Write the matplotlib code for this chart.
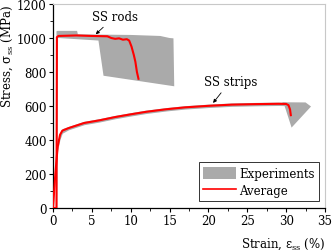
import matplotlib
matplotlib.use("Agg")
import matplotlib.pyplot as plt
from matplotlib.patches import Polygon, Patch
from matplotlib.lines import Line2D

plt.rcParams['font.family'] = ['DejaVu Serif']
plt.rcParams['mathtext.fontset'] = 'dejavuserif'
FS = 8.5

# SS rods: average curve
rods_strain = [0.0, 0.45, 0.5, 0.7, 3.0, 5.0, 7.0, 7.5, 8.0, 8.5, 9.0, 9.5, 9.8, 10.1, 10.4, 10.6, 10.8, 11.0]
rods_stress = [0, 0, 1005, 1012, 1015, 1012, 1010, 1000, 995, 998, 990, 993, 985, 950, 900, 860, 800, 760]

# SS rods: experimental envelope (polygon outline)
rods_env_strain = [0.40, 0.45, 0.6, 3.1, 3.2, 6.0, 10.0, 13.8, 15.0, 15.5, 15.6, 6.5, 5.85, 0.65, 0.55]
rods_env_stress = [0, 1040, 1042, 1042, 1022, 1020, 1018, 1012, 1000, 998, 716, 778, 985, 1000, 0]

# SS strips: average curve
strips_strain = [0.0, 0.3, 0.6, 0.9, 1.2, 2.0, 3.0, 4.0, 6.0, 8.0, 10.0, 12.0, 14.6, 17.0, 20.0, 23.0, 26.0, 29.0, 30.0, 30.3, 30.5, 30.6]
strips_stress = [0, 200, 360, 430, 455, 470, 485, 500, 516, 535, 551, 566, 581, 592, 601, 608, 611, 613, 612, 605, 580, 546]

# SS strips: spread of experiments (lower / upper offsets) and failure region
strips_lo = [0, 10, 20, 25, 15, 10, 10, 10, 10, 10, 10, 10, 10, 10, 10, 10, 10, 10, 10, 10, 10, 10]
strips_hi = [0, 10, 15, 12, 12, 10, 10, 10, 10, 10, 10, 10, 10, 10, 10, 10, 10, 10, 10, 10, 10, 10]
strips_end_strain = [29.5, 32.5, 33.2, 30.7, 29.8]
strips_end_stress = [622, 621, 597, 473, 600]

GRAY = '#aaaaaa'
RED = '#ff0000'

fig = plt.figure(figsize=(3.32, 2.51), dpi=100)
ax = fig.add_axes([53/332, 1-209/251, (325-53)/332, (209-5)/251])

ax.add_patch(Polygon(list(zip(rods_env_strain, rods_env_stress)), closed=True,
                     facecolor=GRAY, edgecolor='none', zorder=1))
lo = [s - d for s, d in zip(strips_stress, strips_lo)]
hi = [s + d for s, d in zip(strips_stress, strips_hi)]
ax.fill_between(strips_strain, lo, hi, color=GRAY, lw=0, zorder=1)
ax.add_patch(Polygon(list(zip(strips_end_strain, strips_end_stress)), closed=True,
                     facecolor=GRAY, edgecolor='none', zorder=1))

ax.plot(rods_strain, rods_stress, color=RED, lw=1.5, zorder=3)
ax.plot(strips_strain, strips_stress, color=RED, lw=1.5, zorder=3)

ax.set_xlim(0, 35)
ax.set_ylim(0, 1200)
ax.set_xticks(range(0, 36, 5))
ax.set_xticks([x + 2.5 for x in range(0, 35, 5)], minor=True)
ax.set_yticks(range(0, 1201, 200))
ax.set_yticks(range(100, 1200, 200), minor=True)
ax.tick_params(which='major', direction='out', length=3, width=0.8, labelsize=FS, pad=1.5, color='black')
ax.tick_params(which='minor', direction='out', length=2, width=0.6)
ax.spines['top'].set_color('#c8c8c8')
ax.spines['right'].set_color('#c8c8c8')
for s in ['left', 'bottom']:
    ax.spines[s].set_linewidth(0.9)

ax.set_ylabel('Stress, σ$_{\\mathrm{ss}}$ (MPa)', fontsize=FS, loc='top', labelpad=1)
ax.set_xlabel('Strain, ε$_{\\mathrm{ss}}$ (%)', fontsize=FS, loc='right', labelpad=6)

ax.annotate('SS rods', xy=(5.5, 1022), xytext=(8.0, 1129), fontsize=FS, ha='center', va='center',
            arrowprops=dict(arrowstyle='-|>', color='black', lw=0.6, mutation_scale=5, shrinkA=2, shrinkB=0))
ax.annotate('SS strips', xy=(20.6, 618), xytext=(22.8, 745), fontsize=FS, ha='center', va='center',
            arrowprops=dict(arrowstyle='-|>', color='black', lw=0.6, mutation_scale=5, shrinkA=2, shrinkB=0))

handles = [Patch(facecolor=GRAY, edgecolor='none'), Line2D([], [], color=RED, lw=1.2)]
leg = ax.legend(handles, ['Experiments', 'Average'], loc='lower right', bbox_to_anchor=(0.978, 0.034),
                borderaxespad=0, fontsize=FS, frameon=True, fancybox=False, handlelength=2.8,
                handleheight=1.3, labelspacing=0.3, handletextpad=0.3, borderpad=0.35)
leg.get_frame().set_edgecolor('black')
leg.get_frame().set_linewidth(0.7)

fig.savefig('out.png', dpi=100)
